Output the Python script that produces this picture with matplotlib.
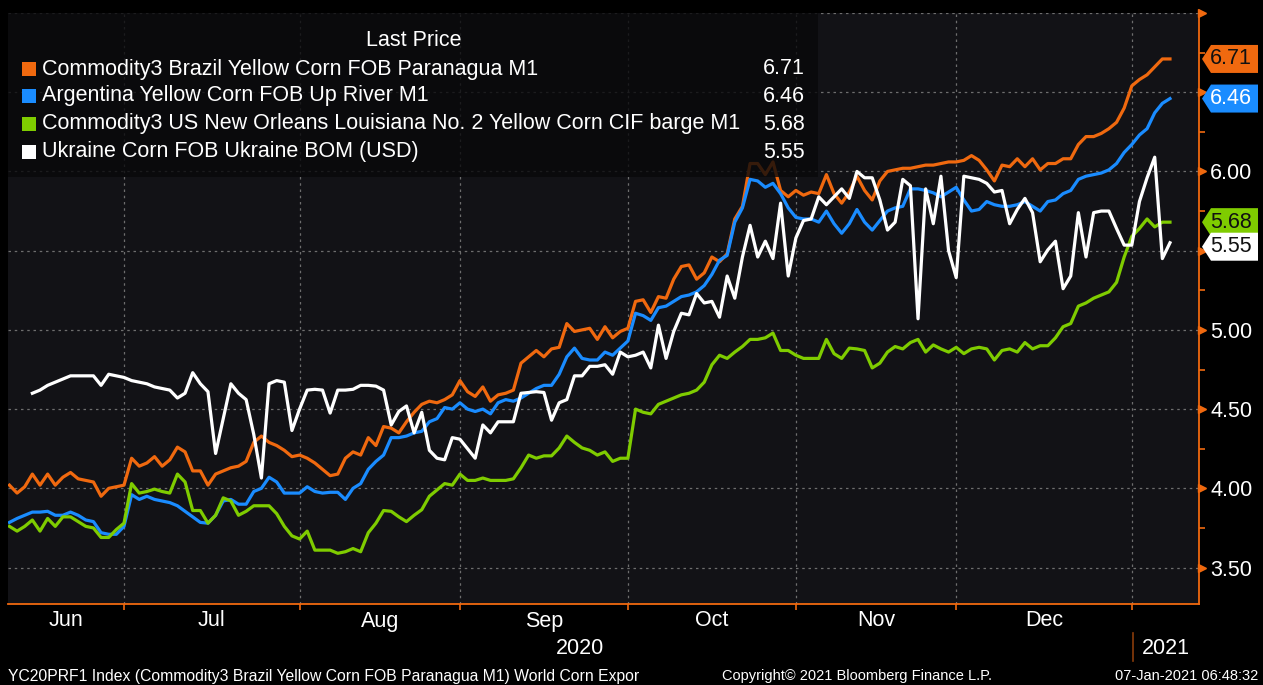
import matplotlib
matplotlib.use('Agg')
import numpy as np
import pandas as pd
from matplotlib import pyplot as plt
from matplotlib.patches import Polygon, Rectangle
from matplotlib.transforms import IdentityTransform, offset_copy, blended_transform_factory
from matplotlib.ticker import MultipleLocator, FuncFormatter

plt.rcParams['font.family'] = ['Liberation Sans', 'DejaVu Sans']

W, H = 1263, 685

# one value per trading day, starting 2020-06-10
days = pd.bdate_range('2020-06-10', periods=153)

brazil = [
    4.02, 3.97, 4.01, 4.09, 4.02, 4.09, 4.02, 4.07, 4.10, 4.06, 4.05, 4.04, 3.95, 4.00, 4.01,
    4.02, 4.19, 4.14, 4.16, 4.20, 4.14, 4.18, 4.26, 4.23, 4.11, 4.11, 4.02, 4.09, 4.11, 4.13,
    4.14, 4.17, 4.29, 4.33, 4.29, 4.27, 4.24, 4.20,
    4.21, 4.19, 4.16, 4.12, 4.08, 4.09, 4.19, 4.23, 4.21, 4.32, 4.27, 4.39, 4.38, 4.35, 4.42,
    4.48, 4.53, 4.55, 4.54, 4.56, 4.59,
    4.68, 4.61, 4.58, 4.64, 4.55, 4.59, 4.60, 4.62, 4.79, 4.83, 4.87, 4.83, 4.88, 4.89, 5.04,
    4.99, 5.00, 5.01, 4.94, 5.02, 4.95, 4.99,
    5.01, 5.18, 5.19, 5.11, 5.21, 5.20, 5.32, 5.40, 5.41, 5.32, 5.36, 5.46, 5.43, 5.48, 5.70,
    5.78, 6.05, 6.05, 5.98, 6.06, 5.88, 5.84,
    5.88, 5.85, 5.87, 5.86, 5.98, 5.86, 5.80, 5.87, 5.97, 5.88, 5.82, 5.94, 6.00, 6.01, 6.02,
    6.02, 6.03, 6.04, 6.04, 6.05, 6.06,
    6.06, 6.07, 6.10, 6.07, 6.01, 5.94, 6.04, 6.03, 6.08, 6.03, 6.08, 6.01, 6.05, 6.05, 6.08,
    6.08, 6.17, 6.22, 6.22, 6.24, 6.27, 6.31, 6.40,
    6.54, 6.58, 6.61, 6.66, 6.71, 6.71,
]
argentina = [
    3.785, 3.81, 3.83, 3.85, 3.85, 3.855, 3.83, 3.83, 3.85, 3.83, 3.80, 3.79, 3.72, 3.71, 3.71,
    3.76, 3.96, 3.93, 3.95, 3.93, 3.92, 3.91, 3.89, 3.855, 3.82, 3.785, 3.78, 3.83, 3.92, 3.93,
    3.90, 3.90, 3.98, 4.00, 4.07, 4.04, 3.97, 3.97,
    3.97, 4.01, 3.98, 3.97, 3.975, 3.975, 3.93, 4.00, 4.03, 4.12, 4.17, 4.21, 4.32, 4.32, 4.33,
    4.35, 4.36, 4.42, 4.44, 4.51, 4.50,
    4.54, 4.50, 4.485, 4.50, 4.47, 4.54, 4.56, 4.55, 4.57, 4.60, 4.63, 4.65, 4.65, 4.72, 4.83,
    4.885, 4.82, 4.81, 4.81, 4.86, 4.84, 4.885,
    4.93, 5.105, 5.09, 5.06, 5.14, 5.15, 5.18, 5.21, 5.22, 5.24, 5.28, 5.35, 5.44, 5.47, 5.68,
    5.77, 5.95, 5.94, 5.90, 5.925, 5.86, 5.77,
    5.71, 5.70, 5.70, 5.68, 5.75, 5.67, 5.61, 5.67, 5.76, 5.68, 5.63, 5.69, 5.75, 5.77, 5.78,
    5.89, 5.89, 5.88, 5.865, 5.84, 5.87,
    5.90, 5.82, 5.75, 5.76, 5.81, 5.79, 5.78, 5.78, 5.79, 5.81, 5.78, 5.75, 5.81, 5.82, 5.86,
    5.88, 5.95, 5.97, 5.98, 5.99, 6.01, 6.05, 6.12,
    6.17, 6.23, 6.27, 6.37, 6.43, 6.46,
]
us_gulf = [
    3.76, 3.73, 3.76, 3.80, 3.73, 3.81, 3.76, 3.82, 3.82, 3.79, 3.76, 3.75, 3.69, 3.69, 3.74,
    3.78, 4.03, 3.97, 3.98, 3.995, 3.98, 3.97, 4.09, 4.04, 3.86, 3.86, 3.78, 3.83, 3.94, 3.92,
    3.83, 3.855, 3.89, 3.89, 3.89, 3.84, 3.76, 3.70,
    3.68, 3.73, 3.61, 3.61, 3.61, 3.59, 3.60, 3.62, 3.60, 3.72, 3.78, 3.86, 3.855, 3.82, 3.79,
    3.83, 3.865, 3.95, 3.99, 4.03, 4.02,
    4.09, 4.05, 4.05, 4.065, 4.05, 4.05, 4.05, 4.06, 4.13, 4.21, 4.19, 4.205, 4.205, 4.255, 4.33,
    4.29, 4.255, 4.24, 4.21, 4.23, 4.17, 4.19,
    4.19, 4.50, 4.48, 4.47, 4.53, 4.55, 4.57, 4.59, 4.60, 4.62, 4.67, 4.78, 4.84, 4.82, 4.86,
    4.895, 4.94, 4.94, 4.95, 4.98, 4.87, 4.87,
    4.84, 4.82, 4.82, 4.82, 4.94, 4.85, 4.82, 4.885, 4.88, 4.87, 4.76, 4.79, 4.86, 4.895, 4.88,
    4.92, 4.94, 4.86, 4.905, 4.88, 4.86,
    4.89, 4.85, 4.88, 4.89, 4.88, 4.81, 4.87, 4.88, 4.86, 4.92, 4.88, 4.90, 4.90, 4.95, 5.02,
    5.04, 5.15, 5.17, 5.20, 5.22, 5.24, 5.30, 5.46,
    5.59, 5.64, 5.70, 5.65, 5.68, 5.68,
]
ukraine = [
    np.nan, np.nan, np.nan, 4.60, 4.62, 4.65, 4.67, 4.69, 4.71, 4.71, 4.71, 4.71, 4.65, 4.72, 4.71,
    4.70, 4.68, 4.67, 4.66, 4.64, 4.63, 4.62, 4.57, 4.60, 4.73, 4.66, 4.61, 4.22, 4.44, 4.66,
    4.60, 4.56, 4.34, 4.065, 4.66, 4.68, 4.67, 4.365,
    4.50, 4.62, 4.625, 4.62, 4.475, 4.62, 4.62, 4.625, 4.65, 4.65, 4.645, 4.62, 4.40, 4.485, 4.52,
    4.35, 4.48, 4.24, 4.19, 4.18, 4.32,
    4.31, 4.25, 4.19, 4.40, 4.35, 4.42, 4.42, 4.42, 4.60, 4.605, 4.61, 4.605, 4.43, 4.54, 4.56,
    4.71, 4.71, 4.77, 4.77, 4.78, 4.72, 4.86,
    4.83, 4.84, 4.86, 4.76, 5.03, 4.82, 4.99, 5.105, 5.095, 5.23, 5.17, 5.18, 5.08, 5.34, 5.20,
    5.46, 5.66, 5.46, 5.56, 5.45, 5.80, 5.34,
    5.58, 5.69, 5.70, 5.84, 5.79, 5.84, 5.89, 5.83, 6.00, 5.96, 5.96, 5.82, 5.63, 5.68, 5.95,
    5.91, 5.07, 5.89, 5.67, 5.97, 5.50,
    5.33, 5.97, 5.96, 5.95, 5.925, 5.87, 5.88, 5.67, 5.76, 5.83, 5.74, 5.43, 5.505, 5.56, 5.26,
    5.34, 5.74, 5.46, 5.74, 5.75, 5.75, 5.64, 5.535,
    5.535, 5.81, 5.96, 6.09, 5.45, 5.55,
]

names = [
    'Commodity3 Brazil Yellow Corn FOB Paranagua M1',
    'Argentina Yellow Corn FOB Up River M1',
    'Commodity3 US New Orleans Louisiana No. 2 Yellow Corn CIF barge M1',
    'Ukraine Corn FOB Ukraine BOM (USD)',
]
month_names = ['Jun', 'Jul', 'Aug', 'Sep', 'Oct', 'Nov', 'Dec']

ORANGE = '#f0690f'
colors = [ORANGE, '#1a8cff', '#7fcc00', '#ffffff']
tag_text = ['#111111', '#ffffff', '#111111', '#111111']
all_series = [brazil, argentina, us_gulf, ukraine]
FS = 15.5


def fx(px):
    return px / W


def fy(py):
    return 1 - py / H


fig = plt.figure(figsize=(W / 100, H / 100), dpi=100, facecolor='black')
ax = fig.add_axes([fx(8), fy(604), 1191 / W, 591 / H])
ax.set_facecolor('#121216')

x = np.arange(len(days))
for vals, col in zip(all_series, colors):
    ax.plot(x, vals, color=col, lw=2.3, zorder=2)

ax.set_xlim(-0.19, 155.8)
ax.set_ylim(3.27, 7.0)

# last value tags: stack them so they do not overlap
lasts = [v[-1] for v in all_series]
order = np.argsort(lasts)[::-1]
tag_y = {}
prev = None
for k in order:
    yv = lasts[k] if prev is None else min(lasts[k], prev - 0.155)
    tag_y[k] = yv
    prev = yv

# month boundaries = first trading day of each month
month = days.month.values
starts = np.flatnonzero(month[1:] != month[:-1]) + 1
ax.set_xticks(starts)
ax.set_xticklabels([])
ax.tick_params(axis='x', colors=ORANGE, length=4, width=1.2, direction='out')


def ylabel(v, pos):
    if v > 6.9 or any(abs(v - t) < 0.1 for t in tag_y.values()):
        return ''
    return '%.2f' % v


yt = np.arange(3.5, 7.01, 0.5)
ax.yaxis.tick_right()
ax.set_yticks(yt)
ax.yaxis.set_major_formatter(FuncFormatter(ylabel))
ax.yaxis.set_minor_locator(MultipleLocator(0.25))
ax.tick_params(axis='y', which='major', length=0, pad=8, labelsize=FS, labelcolor='white')
ax.tick_params(axis='y', which='minor', length=4, color=ORANGE, width=1.2)
ax.grid(True, which='major', color='#6e6e6e', ls=(0, (2, 3)), lw=0.9, zorder=1)
ax.set_axisbelow(True)

tr = offset_copy(ax.get_yaxis_transform(), fig=fig, x=3, y=0, units='dots')
ax.plot(np.ones_like(yt), yt, ls='none', marker='>', ms=6, color=ORANGE,
        transform=tr, clip_on=False, zorder=5)

for s in ['top', 'left']:
    ax.spines[s].set_visible(False)
for s in ['right', 'bottom']:
    ax.spines[s].set_color(ORANGE)
    ax.spines[s].set_linewidth(1.3)

# month and year labels
bounds = [ax.get_xlim()[0]] + list(starts)
mtr = blended_transform_factory(ax.transData, fig.transFigure)
for i, m in enumerate(month_names):
    ax.text((bounds[i] + bounds[i + 1]) / 2, fy(621), m, transform=mtr,
            ha='center', va='center', color='white', fontsize=FS)
fig.text(fx(580), fy(648), '2020', ha='center', va='center', color='white', fontsize=FS)
fig.text(fx(1142), fy(648), '2021', ha='left', va='center', color='white', fontsize=FS)
fig.add_artist(plt.Line2D([fx(1133), fx(1133)], [fy(633), fy(661)], color='#8a3c0a', lw=1.2))

# legend box
ax.add_patch(Rectangle((0, 1 - 164 / 591), 810 / 1191, 164 / 591, transform=ax.transAxes,
                       facecolor='#08080a', alpha=0.8, lw=0, zorder=3))
fig.text(fx(414), fy(40), 'Last Price', ha='center', va='center', color='white', fontsize=FS, zorder=6)
rows = [69, 96, 124, 152]
for name, vals, col, ry in zip(names, all_series, colors, rows):
    fig.patches.append(Rectangle((fx(22), fy(ry + 7)), 14 / W, 14 / H, transform=fig.transFigure,
                                 facecolor=col, lw=0, figure=fig))
    fig.text(fx(42), fy(ry), name, ha='left', va='center', color='white', fontsize=FS, zorder=6)
    fig.text(fx(805), fy(ry), '%.2f' % vals[-1], ha='right', va='center', color='white',
             fontsize=FS, zorder=6)

# tags drawn in pixel space at the right of the axis
for k in order:
    yd = ax.transData.transform((0, tag_y[k]))[1]
    tip = 1202
    poly = Polygon([(tip, yd), (tip + 9, yd + 14), (1258, yd + 14), (1258, yd - 14), (tip + 9, yd - 14)],
                   closed=True, transform=IdentityTransform(), facecolor=colors[k], lw=0, zorder=8)
    fig.add_artist(poly)
    fig.text(fx(1210), yd / H, '%.2f' % lasts[k], ha='left', va='center',
             color=tag_text[k], fontsize=FS, zorder=9)

# footer
fig.text(fx(8), fy(676), 'YC20PRF1 Index (Commodity3 Brazil Yellow Corn FOB Paranagua M1) World Corn Expor',
         ha='left', va='center', color='white', fontsize=11.3)
fig.text(fx(722), fy(676), 'Copyright\u00a9 2021 Bloomberg Finance L.P.', ha='left', va='center',
         color='white', fontsize=10.5)
fig.text(fx(1258), fy(676), '07-Jan-2021 06:48:32', ha='right', va='center', color='white', fontsize=10.5)

fig.savefig('out.png', dpi=100, facecolor='black')
